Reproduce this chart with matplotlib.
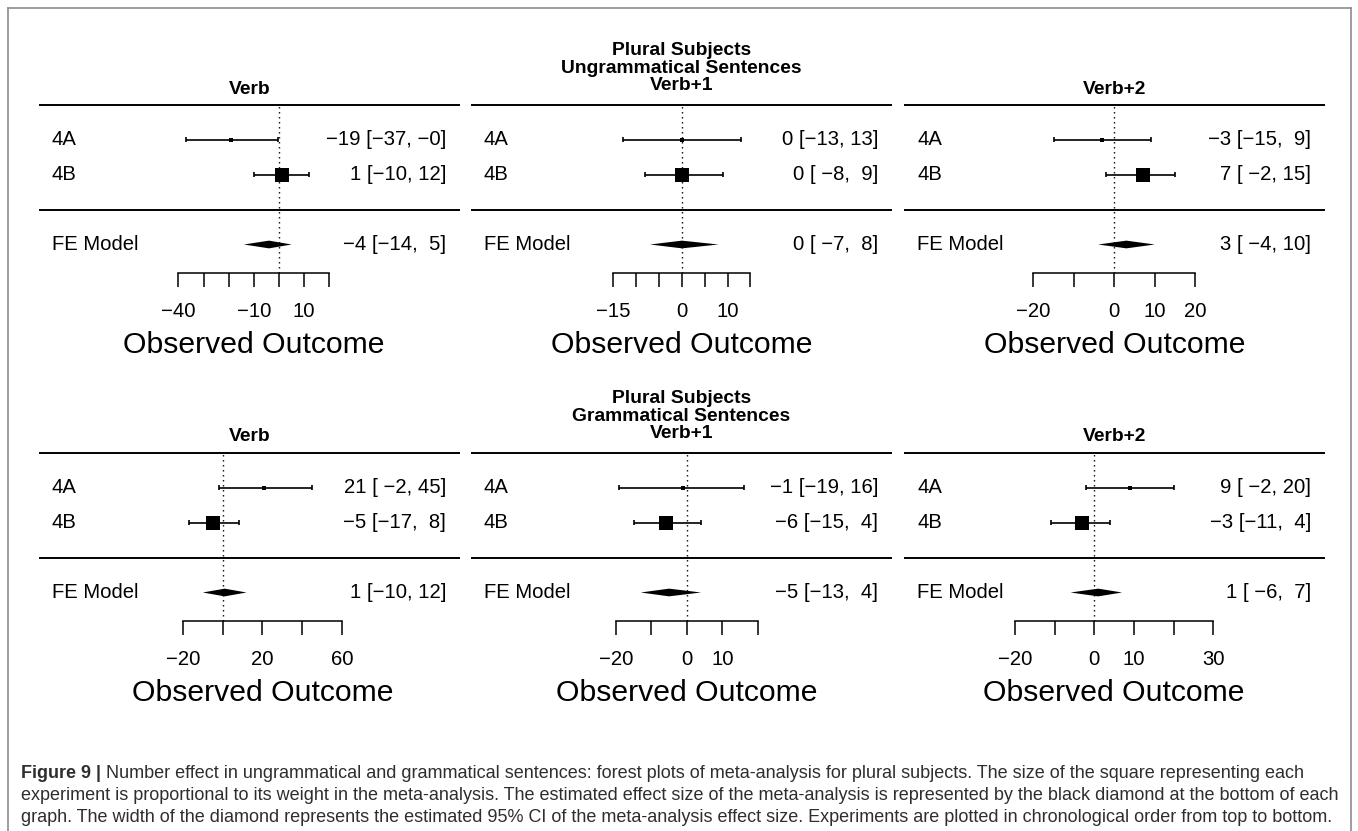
import matplotlib
matplotlib.use('Agg')
import matplotlib.pyplot as plt
from matplotlib.lines import Line2D
from matplotlib.patches import Polygon
from matplotlib.text import Annotation

plt.rcParams['font.family'] = ['Liberation Sans', 'DejaVu Sans']

W, H = 1358, 831

# ---- data -------------------------------------------------------------
studies = ['4A', '4B']
positions = ['Verb', 'Verb+1', 'Verb+2']
conditions = ['Ungrammatical Sentences', 'Grammatical Sentences']

# estimates and 95% CI per position, [4A, 4B]
ungr_est = [[-19, 1], [0, 0], [-3, 7]]
ungr_lo = [[-37, -10], [-13, -8], [-15, -2]]
ungr_hi = [[-0.4, 12], [13, 9], [9, 15]]
ungr_fe = [(-4, -14, 5), (0, -7, 8), (3, -4, 10)]

gram_est = [[21, -5], [-1, -6], [9, -3]]
gram_lo = [[-2, -17], [-19, -15], [-2, -11]]
gram_hi = [[45, 8], [16, 4], [20, 4]]
gram_fe = [(1, -10, 12), (-5, -13, 4), (1, -6, 7)]

# x axis ticks (R leaves out labels that would overlap)
ungr_ticks = [[-40, -30, -20, -10, 0, 10, 20], [-15, -10, -5, 0, 5, 10, 15], [-20, -10, 0, 10, 20]]
ungr_labels = [['−40', '', '', '−10', '', '10', ''], ['−15', '', '', '0', '', '10', ''], ['−20', '', '0', '10', '20']]
gram_ticks = [[-20, 0, 20, 40, 60], [-20, -10, 0, 10, 20], [-20, -10, 0, 10, 20, 30]]
gram_labels = [['−20', '', '20', '', '60'], ['−20', '', '0', '10', ''], ['−20', '', '0', '10', '', '30']]

caption_lines = [
    "Number effect in ungrammatical and grammatical sentences: forest plots of meta-analysis for plural subjects. The size of the square representing each",
    "experiment is proportional to its weight in the meta-analysis. The estimated effect size of the meta-analysis is represented by the black diamond at the bottom of each",
    "graph. The width of the diamond represents the estimated 95% CI of the meta-analysis effect size. Experiments are plotted in chronological order from top to bottom.",
]

# ---- layout (pixels) --------------------------------------------------
cols = [(39, 460), (471, 892), (904, 1325)]
ungr_xlim = [(-95.4, 71.9), (-46.2, 46.0), (-52.0, 52.1)]
gram_xlim = [(-92.4, 119.4), (-60.8, 57.8), (-48.0, 58.2)]
row_px = 35.0      # pixels per row
top_line_px = [104.5, 452.5]
FS = 14.6


def fx(px):
    return px / W


def fy(py):
    return 1 - py / H


def fmt(v):
    return f"{v:.0f}".replace('-', '−')


def draw_panel(ax, est, lo, hi, fe, ticks, labels, xlim):
    ax.set_xlim(xlim)
    ax.set_ylim(-1.8, 3.2)
    for s in ['top', 'right', 'left']:
        ax.spines[s].set_visible(False)
    ax.spines['bottom'].set_bounds(ticks[0], ticks[-1])
    ax.spines['bottom'].set_linewidth(1.1)
    ax.set_yticks([])
    ax.set_xticks(ticks)
    ax.set_xticklabels(labels)
    ax.tick_params(axis='x', direction='out', length=10, width=1.1, pad=11, labelsize=FS)
    ax.patch.set_visible(False)

    ax.axhline(3, color='k', lw=1.4)
    ax.axhline(0, color='k', lw=1.4)
    ax.vlines(0, -1.8, 3, colors='k', linestyles=(0, (1, 2.6)), lw=1.0)

    # square size as in metafor: rescaled inverse-variance weights
    w = [1 / ((h - l) / 3.92) ** 2 for l, h in zip(lo, hi)]
    p = [x / sum(w) for x in w]
    psize = [(x - min(p)) / (max(p) - min(p)) + 0.5 for x in p]

    rows = [2, 1]
    for r, e, l, h, ps in zip(rows, est, lo, hi, psize):
        ax.hlines(r, l, h, colors='k', lw=1.2)
        ax.vlines([l, h], r - 0.07, r + 0.07, colors='k', lw=1.2)
        ax.plot(e, r, marker='s', ms=ps * 7.0, color='k', mec='k', mew=0)

    fe_est, fe_lo, fe_hi = fe
    ax.add_patch(Polygon([(fe_lo, -1), (fe_est, -0.89), (fe_hi, -1), (fe_est, -1.11)],
                         closed=True, color='k', lw=0))

    # text columns
    trans = ax.get_yaxis_transform()
    for r, name in zip(rows + [-1], studies + ['FE Model']):
        ax.text(13 / 421, r, name, transform=trans, ha='left', va='center', fontsize=FS)

    all_e = list(est) + [fe_est]
    all_l = [fmt(v) for v in list(lo) + [fe_lo]]
    all_h = [fmt(v) for v in list(hi) + [fe_hi]]
    wl = max(len(s) for s in all_l)
    wh = max(len(s) for s in all_h)
    for r, e, l, h in zip(rows + [-1], all_e, all_l, all_h):
        ann = f"{fmt(e)} [{l.rjust(wl)}, {h.rjust(wh)}]"
        ax.text(1 - 14 / 421, r, ann, transform=trans, ha='right', va='center', fontsize=FS)

    ax.annotate('Observed Outcome', xy=((ticks[0] + ticks[-1]) / 2, 0),
                xycoords=('data', 'axes fraction'), xytext=(0, -52),
                textcoords='offset points', ha='center', va='center', fontsize=21.7)


fig = plt.figure(figsize=(W / 100, H / 100), dpi=100)

groups = [
    (ungr_est, ungr_lo, ungr_hi, ungr_fe, ungr_ticks, ungr_labels, ungr_xlim),
    (gram_est, gram_lo, gram_hi, gram_fe, gram_ticks, gram_labels, gram_xlim),
]

for g, (E, L, Hh, F, T, TL, XL) in enumerate(groups):
    top = top_line_px[g] - 0.2 * row_px
    bottom = top_line_px[g] + 4.8 * row_px
    for c in range(3):
        x0, x1 = cols[c]
        ax = fig.add_axes([fx(x0), fy(bottom), (x1 - x0) / W, (bottom - top) / H])
        draw_panel(ax, E[c], L[c], Hh[c], F[c], T[c], TL[c], XL[c])
        xc = fx((x0 + x1) / 2)
        if c == 1:
            ttl = 'Plural Subjects\n' + conditions[g] + '\n' + positions[c]
            fig.text(xc, fy(top_line_px[g] - 10), ttl, ha='center', va='bottom',
                     fontsize=13.9, fontweight='bold', linespacing=1.05)
        else:
            fig.text(xc, fy(top_line_px[g] - 7), positions[c], ha='center', va='bottom',
                     fontsize=13.9, fontweight='bold')

# outer frame
frame_kw = dict(color='#8c8c8c', lw=1.2, transform=fig.transFigure)
fig.add_artist(Line2D([fx(7.5), fx(7.5)], [0, fy(8)], **frame_kw))
fig.add_artist(Line2D([fx(7.5), fx(1351)], [fy(8), fy(8)], **frame_kw))
fig.add_artist(Line2D([fx(1351), fx(1351)], [fy(8), 0], **frame_kw))

# caption
cap_fs = 13.0
cap_col = '#2e2e2e'
cap_y = [773, 795, 817]
bold = fig.text(fx(21), fy(cap_y[0]), 'Figure 9 | ', fontsize=cap_fs, fontweight='bold',
                ha='left', va='center', color=cap_col)
fig.add_artist(Annotation(caption_lines[0], xy=(1, 0.5), xycoords=bold,
                          ha='left', va='center', fontsize=cap_fs, color=cap_col))
for line, y in zip(caption_lines[1:], cap_y[1:]):
    fig.text(fx(21), fy(y), line, fontsize=cap_fs, ha='left', va='center', color=cap_col)

fig.savefig('out.png', dpi=100)
